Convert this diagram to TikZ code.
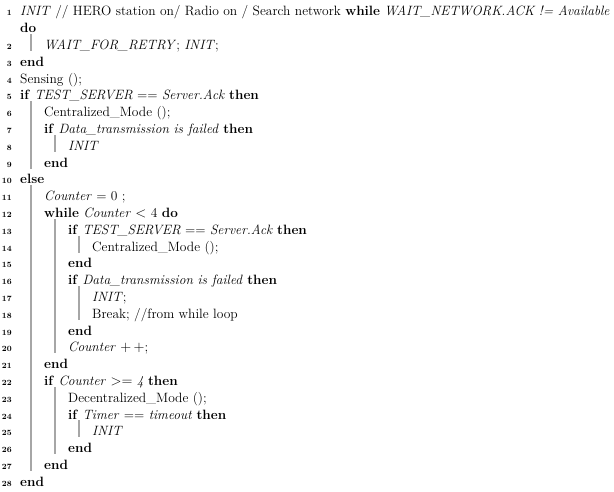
\documentclass[tikz,border=0pt]{standalone}
\begin{document}
\begin{tikzpicture}[x=1pt,y=-1pt,
  txt/.style={anchor=base west,inner sep=0pt,font=\fontsize{13.5}{15}\selectfont},
  num/.style={anchor=base east,inner sep=0pt,font=\fontsize{8}{9}\selectfont\bfseries},
  bar/.style={draw=gray!70,line width=1.3pt}]
\useasboundingbox (0,0) rectangle (614,491);
\def\kw#1{\textbf{#1}}
\newcommand\Ln[3]{\pgfmathsetmacro\yy{45+(#1-2)*16.8+4.5}\pgfmathsetmacro\xx{20+24*#2}%
  \node[num] (n#1) at (12,\yy) {#1};\node[txt] (t#1) at (\xx,\yy) {#3};}
\newcommand\Bar[3]{\pgfmathsetmacro\bx{31+24*#1}\pgfmathsetmacro\ya{45+(#2-2)*16.8-11}\pgfmathsetmacro\yb{45+(#3-2)*16.8+6}%
  \draw[bar] (\bx,\ya) -- (\bx,\yb);}
\node[num] (n1) at (12,15.5) {1};
\node[txt] (t1) at (20,15.5) {\textit{INIT} // HERO station on/ Radio on / Search network \kw{while} \textit{WAIT\_NETWORK.ACK != Available}};
\node[txt] (t1b) at (20,32.5) {\kw{do}};
\Ln{2}{1}{\textit{WAIT\_FOR\_RETRY}; \textit{INIT};}
\Ln{3}{0}{\kw{end}}
\Ln{4}{0}{Sensing ();}
\Ln{5}{0}{\kw{if} \textit{TEST\_SERVER} == \textit{Server.Ack} \kw{then}}
\Ln{6}{1}{Centralized\_Mode ();}
\Ln{7}{1}{\kw{if} \textit{Data\_transmission is failed} \kw{then}}
\Ln{8}{2}{\textit{INIT}}
\Ln{9}{1}{\kw{end}}
\Ln{10}{0}{\kw{else}}
\Ln{11}{1}{\textit{Counter} = 0 ;}
\Ln{12}{1}{\kw{while} \textit{Counter} $<$ 4 \kw{do}}
\Ln{13}{2}{\kw{if} \textit{TEST\_SERVER} == \textit{Server.Ack} \kw{then}}
\Ln{14}{3}{Centralized\_Mode ();}
\Ln{15}{2}{\kw{end}}
\Ln{16}{2}{\kw{if} \textit{Data\_transmission is failed} \kw{then}}
\Ln{17}{3}{\textit{INIT};}
\Ln{18}{3}{Break; //from while loop}
\Ln{19}{2}{\kw{end}}
\Ln{20}{2}{\textit{Counter} $+\,+$;}
\Ln{21}{1}{\kw{end}}
\Ln{22}{1}{\kw{if} \textit{Counter} $>=$ \textit{4} \kw{then}}
\Ln{23}{2}{Decentralized\_Mode ();}
\Ln{24}{2}{\kw{if} \textit{Timer} == \textit{timeout} \kw{then}}
\Ln{25}{3}{\textit{INIT}}
\Ln{26}{2}{\kw{end}}
\Ln{27}{1}{\kw{end}}
\Ln{28}{0}{\kw{end}}
\Bar{0}{2}{2}
\Bar{0}{6}{9}
\Bar{1}{8}{8}
\Bar{0}{11}{27}
\Bar{1}{13}{20}
\Bar{2}{14}{14}
\Bar{2}{17}{18}
\Bar{1}{23}{26}
\Bar{2}{25}{25}
\end{tikzpicture}
\end{document}
